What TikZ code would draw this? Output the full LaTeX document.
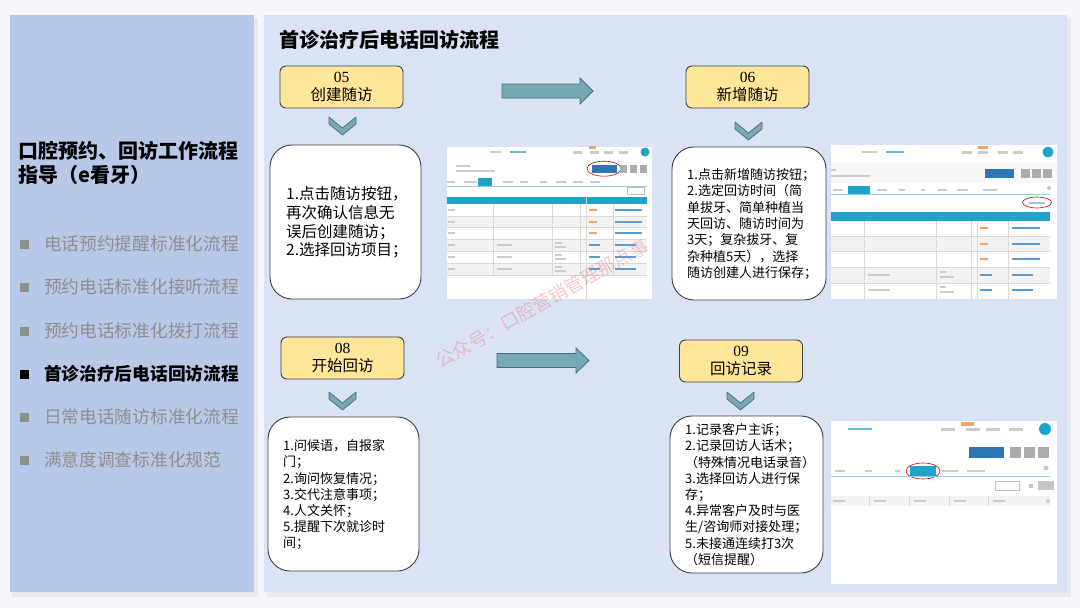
\documentclass[tikz,border=0pt]{standalone}
\usepackage{fontspec}
\setmainfont{Liberation Serif}
\newfontfamily\cjk{Noto Sans CJK SC}
\definecolor{pagebg}{HTML}{F6F7FA}
\definecolor{leftbg}{HTML}{B7C8E8}
\definecolor{rightbg}{HTML}{DAE3F3}
\definecolor{stepfill}{HTML}{FFE699}
\definecolor{edgecol}{HTML}{3A3F4B}
\definecolor{arrfill}{HTML}{76A9B4}
\definecolor{arredge}{HTML}{466F80}
\definecolor{grayitem}{HTML}{8E8E8E}
\definecolor{ssteal}{HTML}{1FA3C8}
\definecolor{ssblue}{HTML}{2E75B6}
\definecolor{rowgray}{HTML}{F3F3F3}
\definecolor{txtgray}{HTML}{C9CDD2}
\definecolor{linkblue}{HTML}{5B9BD5}
\definecolor{tagorange}{HTML}{F4A460}
\definecolor{wmark}{HTML}{E8707F}
\begin{document}
\begin{tikzpicture}[x=1pt,y=-1pt,
  stepbox/.style={draw=edgecol, line width=0.9pt, fill=stepfill, rounded corners=6pt,
    minimum width=123pt, minimum height=42pt, align=center, inner sep=0pt,
    font=\fontsize{15.5}{19}\selectfont},
  notebox/.style={draw=edgecol, line width=0.9pt, fill=white, rounded corners=22pt},
  notetext/.style={anchor=north west, align=left, inner sep=0pt},
  chevstyle/.style={fill=arrfill, draw=arredge, line width=0.7pt, line join=round},
  blockarrow/.style={fill=arrfill, draw=arredge, line width=0.8pt},
  listitem/.style={anchor=west, inner sep=0pt, text=grayitem, font=\cjk\fontsize{17.7}{20}\selectfont},
  bulletbox/.style={fill=grayitem},
  tb/.style={fill=txtgray},
  gl/.style={draw=gray!30, line width=0.4pt},
  chevdown/.pic={\draw[chevstyle] (-13.5,0) -- (0,11) -- (13.5,0) -- (13.5,7) -- (0,18) -- (-13.5,7) -- cycle;}
]
\useasboundingbox (0,0) rectangle (1080,608);
\fill[pagebg] (0,0) rectangle (1080,608);
% shadows
\fill[black, opacity=0.05] (12,18) rectangle (258,597);
\fill[black, opacity=0.05] (267,18) rectangle (1071,597);
% panels
\fill[leftbg] (10,15) rectangle (254,592);
\fill[rightbg] (264,15) rectangle (1067,592);

% left panel
\node[anchor=west, inner sep=0pt, font=\cjk\bfseries\fontsize{20}{24}\selectfont] (lt1) at (18,151) {口腔预约、回访工作流程};
\node[anchor=west, inner sep=0pt, font=\cjk\bfseries\fontsize{20}{24}\selectfont] (lt2) at (18,175) {指导（e看牙）};
\fill[bulletbox] (19.5,239.5) rectangle (29,249);
\node[listitem] (li1) at (44,244) {电话预约提醒标准化流程};
\fill[bulletbox] (19.5,282.5) rectangle (29,292);
\node[listitem] (li2) at (44,287) {预约电话标准化接听流程};
\fill[bulletbox] (19.5,326.5) rectangle (29,336);
\node[listitem] (li3) at (44,331) {预约电话标准化拨打流程};
\fill[black] (19.5,369.5) rectangle (29,379);
\node[listitem, text=black, font=\cjk\bfseries\fontsize{17.7}{20}\selectfont] (li4) at (44,374) {首诊治疗后电话回访流程};
\fill[bulletbox] (19.5,412.5) rectangle (29,422);
\node[listitem] (li5) at (44,417) {日常电话随访标准化流程};
\fill[bulletbox] (19.5,455.5) rectangle (29,465);
\node[listitem] (li6) at (44,460) {满意度调查标准化规范};

% right title
\node[anchor=west, inner sep=0pt, font=\cjk\bfseries\fontsize{20}{24}\selectfont] (rt) at (279,40) {首诊治疗后电话回访流程};

% step boxes
\node[stepbox] (s05) at (341.5,87) {05\\[-1pt]{\cjk 创建随访}};
\node[stepbox] (s06) at (747.5,87) {06\\[-1pt]{\cjk 新增随访}};
\node[stepbox] (s08) at (342.5,358) {08\\[-1pt]{\cjk 开始回访}};
\node[stepbox] (s09) at (741,361) {09\\[-1pt]{\cjk 回访记录}};

% chevrons
\pic at (342.5,117) {chevdown};
\pic at (748.5,122) {chevdown};
\pic at (342.5,392) {chevdown};
\pic at (740.5,392) {chevdown};

% block arrows
\draw[blockarrow] (502,84) -- (580,84) -- (580,78) -- (593,91) -- (580,104) -- (580,98) -- (502,98) -- cycle;
\draw[blockarrow] (497,353.5) -- (576,353.5) -- (576,348) -- (589,360.5) -- (576,373) -- (576,367.5) -- (497,367.5) -- cycle;

% note boxes
\node[notebox, minimum width=151pt, minimum height=154pt] (b1) at (345.5,222) {};
\node[notebox, minimum width=154pt, minimum height=153pt] (b2) at (749,223.5) {};
\node[notebox, minimum width=151pt, minimum height=154pt] (b3) at (343.5,494) {};
\node[notebox, minimum width=153pt, minimum height=157pt] (b4) at (746.5,494.5) {};

\node[notetext, font=\cjk\fontsize{15.5}{18.7}\selectfont] (t1) at (286,186.5) {1.点击随访按钮，\\再次确认信息无\\误后创建随访；\\2.选择回访项目；};
\node[notetext, font=\cjk\fontsize{13}{16.3}\selectfont] (t2) at (687,168.5) {1.点击新增随访按钮；\\2.选定回访时间（简\\单拔牙、简单种植当\\天回访、随访时间为\\3天；复杂拔牙、复\\杂种植5天），选择\\随访创建人进行保存；};
\node[notetext, font=\cjk\fontsize{13}{16.2}\selectfont] (t3) at (283,439.5) {1.问候语，自报家\\门；\\2.询问恢复情况；\\3.交代注意事项；\\4.人文关怀；\\5.提醒下次就诊时\\间；};
\node[notetext, font=\cjk\fontsize{13}{16.2}\selectfont] (t4) at (685,423.5) {1.记录客户主诉；\\2.记录回访人话术；\\（特殊情况电话录音）\\3.选择回访人进行保\\存；\\4.异常客户及时与医\\生/咨询师对接处理；\\5.未接通连续打3次\\（短信提醒）};

% ---------- screenshot 1 ----------
\fill[white] (447,147) rectangle (652,299);
\fill[tb] (490,151) rectangle (501,153);
\fill[ssteal!70] (510,151) rectangle (526,153);
\foreach \a in {573,590,604,619} \fill[tb] (\a,150.5) rectangle (\a+9,153.5);
\fill[tagorange] (589,145.5) rectangle (596,149);
\fill[ssteal] (645,152) circle (4.5);
\fill[tb] (456,164.5) rectangle (470,166.5);
\fill[tb] (456,169.5) rectangle (495,171.5);
\fill[ssblue] (592,165) rectangle (617,172.5);
\draw[red!80!black, line width=0.6pt] (604,168.7) ellipse [x radius=17, y radius=7.5];
\foreach \a in {620,630,640} \fill[gray!65] (\a,164.5) rectangle (\a+7,173);
\foreach \a/\b in {447/455,464/477,503/513,520/528,540/547,556/566,573/583,590/600} \fill[tb] (\a,181) rectangle (\b,183);
\fill[ssteal] (478,178) rectangle (492,186);
\draw[ssteal!50, line width=0.5pt] (447,186) -- (647,186);
\draw[gray!50, line width=0.4pt] (627,187.5) rectangle (644,194);
\fill[ssteal] (447,197) rectangle (647,204);
\foreach \r in {216,239,263} \fill[rowgray] (447,\r) rectangle (647,\r+12);
\foreach \r in {216,227.5,239,251,263,275} \draw[gl] (447,\r) -- (647,\r);
\foreach \c in {493,552,580,613} \draw[gl] (\c,204) -- (\c,275);
\draw[gl] (586,197) -- (586,299);
\foreach \r in {210,222,233,245,257,269} \fill[tb] (448,\r-1) rectangle (455,\r+1);
\foreach \r in {210,222,233} {\fill[tagorange] (589,\r-1) rectangle (597,\r+1); \fill[linkblue] (615,\r-1) rectangle (642,\r+1);}
\foreach \r in {245,257,269} {\fill[linkblue] (589,\r-1) rectangle (600,\r+1); \fill[linkblue] (615,\r-1) rectangle (636,\r+1); \fill[tb] (497,\r-1) rectangle (512,\r+1); \fill[tb] (555,\r-3) rectangle (562,\r-1.5); \fill[tb] (555,\r+1) rectangle (566,\r+2.5);}

% ---------- screenshot 2 ----------
\fill[white] (831,145) rectangle (1057,299);
\fill[tb] (862,151) rectangle (877,153);
\fill[ssteal!70] (886,151) rectangle (904,153);
\foreach \a in {962,978,998,1013} \fill[tb] (\a,150.5) rectangle (\a+10,153.5);
\fill[tagorange] (978,145.5) rectangle (988,149);
\fill[ssteal] (1048,152) circle (5.5);
\fill[rowgray!70] (831,162) rectangle (1057,183);
\fill[tb] (831,169) rectangle (836,171);
\fill[tb] (831,175) rectangle (870,177);
\fill[ssblue] (985,169) rectangle (1014,178);
\foreach \a in {1021,1032,1043} \fill[gray!65] (\a,169) rectangle (\a+9,178);
\foreach \a/\b in {833/843,877/887,899/905,921/925,938/947,957/968,983/997} \fill[tb] (\a,189) rectangle (\b,191);
\fill[ssteal] (848,186) rectangle (870,194);
\draw[ssteal!50, line width=0.5pt] (831,194) -- (1050,194);
\fill[gray!45] (1049,188) circle (2);
\fill[linkblue!60] (1029,201.5) rectangle (1045,203.5);
\draw[red!80!black, line width=0.6pt] (1037,202.5) ellipse [x radius=14.5, y radius=5.5];
\fill[ssteal] (831,212) rectangle (1050,221);
\foreach \r in {236,267} \fill[rowgray] (831,\r) rectangle (1050,\r+15.5);
\foreach \r in {236,251.5,267,283} \draw[gl] (831,\r) -- (1050,\r);
\foreach \c in {864,936,971,977,1008} \draw[gl] (\c,221) -- (\c,299);
\foreach \r in {228,244,259} {\fill[tagorange] (980,\r-1) rectangle (988,\r+1); \fill[linkblue] (1012,\r-1) rectangle (1040,\r+1);}
\foreach \r in {275,290} {\fill[linkblue] (980,\r-1) rectangle (992,\r+1); \fill[linkblue] (1012,\r-1) rectangle (1033,\r+1); \fill[tb] (868,\r-1) rectangle (890,\r+1); \fill[tb] (940,\r-4) rectangle (946,\r-2.5); \fill[tb] (940,\r+1) rectangle (954,\r+2.5);}

% ---------- screenshot 3 ----------
\fill[white] (831,421) rectangle (1057,584);
\fill[ssteal!70] (848,428) rectangle (872,430);
\foreach \a in {941,966,986,1009} \fill[tb] (\a,427.5) rectangle (\a+14,430.5);
\fill[tagorange] (961,422) rectangle (974,426);
\fill[ssteal] (1045,429) circle (6);
\fill[ssblue] (969,447) rectangle (1004,458);
\foreach \a in {1010,1024,1038} \fill[gray!65] (\a,447) rectangle (\a+11,458);
\foreach \a/\b in {835/845,865/872,895/900,942/958,967/985} \fill[tb] (\a,470) rectangle (\b,472);
\fill[ssteal] (910,466) rectangle (936,476);
\draw[red!80!black, line width=0.6pt] (923,471) ellipse [x radius=17, y radius=8];
\draw[ssteal!50, line width=0.5pt] (831,476.5) -- (1050,476.5);
\fill[gray!45] (1046,468) circle (2.5);
\draw[gray!50, line width=0.4pt] (995,481) rectangle (1019,490);
\fill[gray!45] (1029,484) rectangle (1033,488);
\fill[gray!45] (1038,481) rectangle (1054,490);
\fill[rowgray] (831,496) rectangle (1050,506);
\foreach \c in {869,909,949,988} \draw[gl] (\c,496) -- (\c,506);
\foreach \a in {833,874,914,954,993} \fill[tb] (\a,500) rectangle (\a+12,502);
\fill[gray!40] (1048,501) circle (2);

% watermark
\node[rotate=29.5, text=wmark, opacity=0.38, inner sep=0pt, font=\cjk\fontsize{18.5}{20}\selectfont] (wm) at (542,303) {公众号：口腔营销管理那点事};
\end{tikzpicture}
\end{document}
